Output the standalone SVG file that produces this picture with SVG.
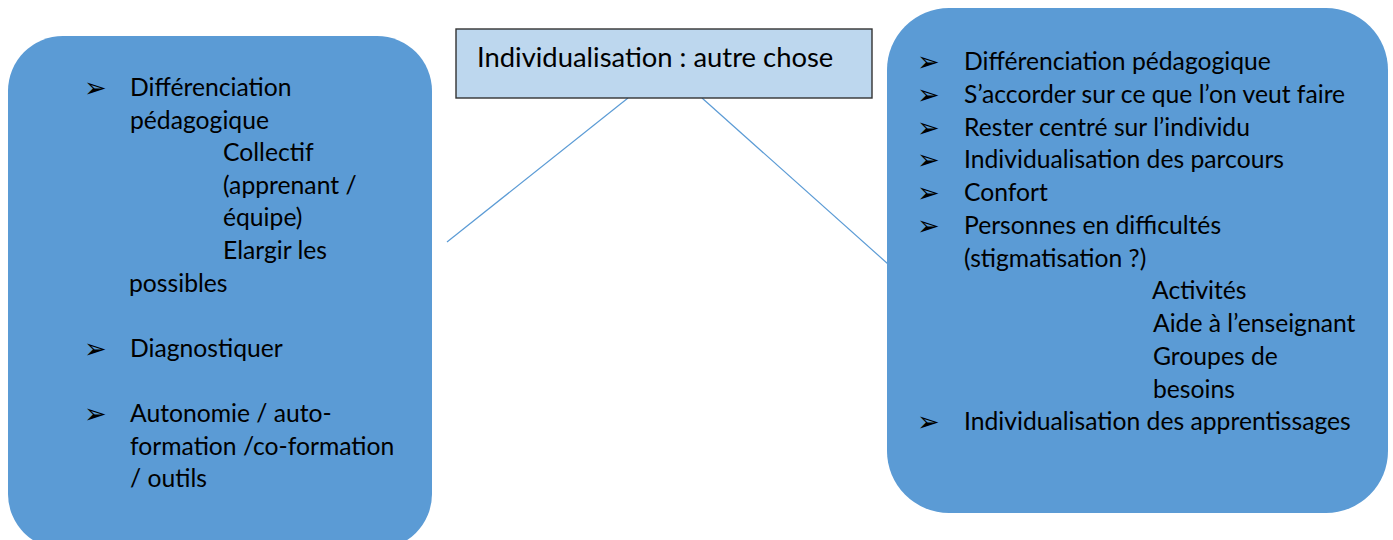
<svg xmlns="http://www.w3.org/2000/svg" width="1393" height="540" viewBox="0 0 1393 540">
<style>
.box{fill:#5B9BD5;stroke:none}
.title{fill:#BDD7EE;stroke:#333333;stroke-width:1.4}
.t{font-family:Lato,"Open Sans","Liberation Sans",sans-serif;font-size:24.7px;fill:#000}
.tt{font-family:Lato,"Open Sans","Liberation Sans",sans-serif;font-size:27.4px;fill:#000}
.b{font-family:"DejaVu Sans",sans-serif;font-size:27px;fill:#000}
.conn{stroke:#5B9BD5;stroke-width:1.2;fill:none}
</style>
<rect width="1393" height="540" fill="#ffffff"/>
<g id="connectors">
<line class="conn" x1="628" y1="98" x2="447" y2="242"/>
<line class="conn" x1="702" y1="98" x2="888" y2="264"/>
</g>
<g id="node-left">
<rect class="box" x="8" y="36" width="424" height="513" rx="55" ry="55"/>
<text class="b" x="84" y="97">➢</text>
<text class="t" x="130" y="96">Différenciation</text>
<text class="t" x="130" y="128.6">pédagogique</text>
<text class="t" x="223" y="161.2">Collectif</text>
<text class="t" x="223" y="193.8">(apprenant /</text>
<text class="t" x="223" y="226.4">équipe)</text>
<text class="t" x="223" y="259">Elargir les</text>
<text class="t" x="129" y="291.6">possibles</text>
<text class="b" x="84" y="358">➢</text>
<text class="t" x="130" y="357">Diagnostiquer</text>
<text class="b" x="84" y="423">➢</text>
<text class="t" x="130" y="422">Autonomie / auto-</text>
<text class="t" x="130" y="454.6">formation /co-formation</text>
<text class="t" x="130" y="487.2">/ outils</text>
</g>
<g id="node-top">
<rect class="title" x="456" y="29" width="416" height="69"/>
<text class="tt" x="477" y="67">Individualisation : autre chose</text>
</g>
<g id="node-right">
<rect class="box" x="887" y="8" width="501" height="505" rx="62" ry="62"/>
<text class="b" x="917" y="71">➢</text>
<text class="t" x="964" y="70">Différenciation pédagogique</text>
<text class="b" x="917" y="103.75">➢</text>
<text class="t" x="964" y="102.75">S’accorder sur ce que l’on veut faire</text>
<text class="b" x="917" y="136.5">➢</text>
<text class="t" x="964" y="135.5">Rester centré sur l’individu</text>
<text class="b" x="917" y="169.25">➢</text>
<text class="t" x="964" y="168.25">Individualisation des parcours</text>
<text class="b" x="917" y="202">➢</text>
<text class="t" x="964" y="201">Confort</text>
<text class="b" x="917" y="234.75">➢</text>
<text class="t" x="964" y="233.75">Personnes en difficultés</text>
<text class="t" x="964" y="266.5">(stigmatisation ?)</text>
<text class="t" x="1152" y="299.25">Activités</text>
<text class="t" x="1153" y="332">Aide à l’enseignant</text>
<text class="t" x="1153" y="364.75">Groupes de</text>
<text class="t" x="1153" y="397.5">besoins</text>
<text class="b" x="917" y="431.25">➢</text>
<text class="t" x="964" y="430.25">Individualisation des apprentissages</text>
</g>
</svg>
